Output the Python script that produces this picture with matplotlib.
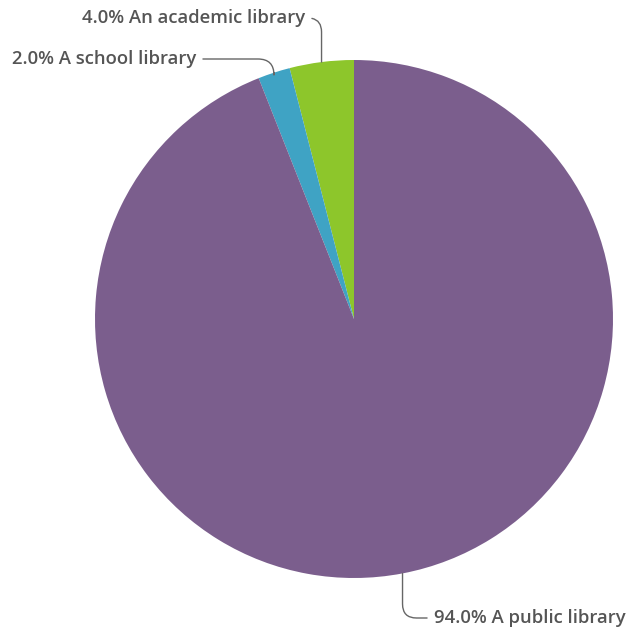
import numpy as np
import matplotlib.pyplot as plt

labels = ['An academic library', 'A school library', 'A public library']
values = [4.0, 2.0, 94.0]
colors = ['#8DC62B', '#3FA3C4', '#7B5E8D']

# text anchor positions in pixels (x, y from top), alignment
label_pos = [(305, 18, 'right'), (196, 59, 'right'), (434, 618, 'left')]
conn = ['angle,angleA=0,angleB=90,rad=14',
        'angle,angleA=0,angleB=90,rad=16',
        'angle,angleA=0,angleB=90,rad=14']

W, H = 633, 627
cx, cy, R = 354, 319, 259

def px(x, y):
    return (x - cx) / R, (cy - y) / R

fig = plt.figure(figsize=(W / 100, H / 100), dpi=100)
ax = fig.add_axes([0, 0, 1, 1])

wedges, _ = ax.pie(values, colors=colors, startangle=90, counterclock=True,
                   radius=1, center=(0, 0), frame=True)
ax.set_xlim(-cx / R, (W - cx) / R)
ax.set_ylim((cy - H) / R, cy / R)
ax.set_aspect('auto')
ax.axis('off')

for w, lab, v, (tx, ty, ha), cs in zip(wedges, labels, values, label_pos, conn):
    mid = np.deg2rad((w.theta1 + w.theta2) / 2)
    xy = (np.cos(mid), np.sin(mid))
    ax.annotate(f'{v:.1f}% {lab}', xy=xy, xytext=px(tx, ty),
                ha=ha, va='center', fontsize=13.3, color='#555555',
                fontweight='semibold',
                family=['Open Sans', 'DejaVu Sans'],
                arrowprops=dict(arrowstyle='-', color='#666666', lw=1,
                                connectionstyle=cs, shrinkA=3, shrinkB=0))

fig.savefig('out.png', dpi=100)
